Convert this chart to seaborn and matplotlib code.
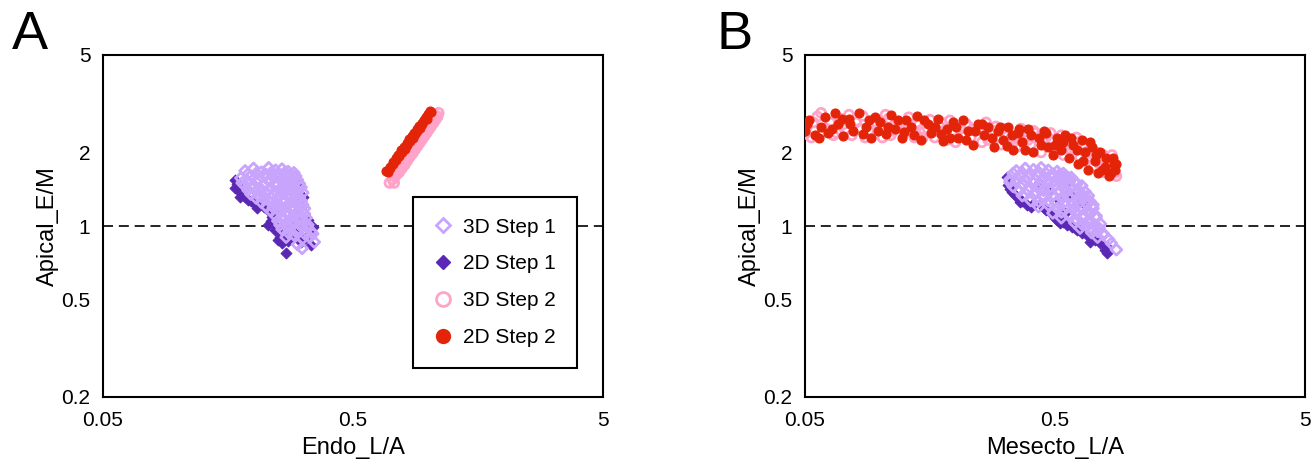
import matplotlib
matplotlib.use("Agg")
import matplotlib.pyplot as plt
import seaborn as sns
from matplotlib.lines import Line2D

# ---- panel A data: (Endo_L/A, Apical_E/M) pairs ----
a_3d_step1 = [
    (0.185, 1.68), (0.20, 1.72), (0.215, 1.66), (0.23, 1.73), (0.245, 1.69),
    (0.26, 1.71), (0.275, 1.67), (0.29, 1.65),
    (0.19, 1.63), (0.205, 1.64), (0.22, 1.62), (0.235, 1.65), (0.25, 1.63),
    (0.265, 1.64), (0.28, 1.62), (0.295, 1.60),
    (0.178, 1.57), (0.195, 1.60), (0.21, 1.55), (0.225, 1.62), (0.24, 1.58),
    (0.255, 1.61), (0.27, 1.56), (0.285, 1.59), (0.30, 1.54),
    (0.18, 1.50), (0.19, 1.52), (0.205, 1.51), (0.23, 1.53), (0.245, 1.50),
    (0.26, 1.52), (0.27, 1.50), (0.29, 1.51), (0.305, 1.49),
    (0.185, 1.46), (0.20, 1.44), (0.22, 1.48), (0.235, 1.43), (0.25, 1.47),
    (0.265, 1.45), (0.28, 1.49), (0.295, 1.42), (0.31, 1.44),
    (0.19, 1.40), (0.205, 1.39), (0.215, 1.41), (0.23, 1.40), (0.245, 1.38),
    (0.255, 1.41), (0.27, 1.39), (0.285, 1.40), (0.30, 1.38), (0.315, 1.37),
    (0.195, 1.35), (0.21, 1.33), (0.225, 1.37), (0.24, 1.34), (0.26, 1.36),
    (0.275, 1.32), (0.29, 1.35), (0.305, 1.31),
    (0.205, 1.30), (0.22, 1.29), (0.235, 1.31), (0.25, 1.30), (0.265, 1.28),
    (0.28, 1.30), (0.295, 1.29), (0.31, 1.27),
    (0.215, 1.25), (0.23, 1.27), (0.25, 1.23), (0.265, 1.26), (0.28, 1.24),
    (0.30, 1.28), (0.315, 1.22),
    (0.225, 1.20), (0.24, 1.19), (0.255, 1.21), (0.27, 1.20), (0.29, 1.19),
    (0.305, 1.20), (0.32, 1.18),
    (0.235, 1.15), (0.25, 1.17), (0.27, 1.13), (0.285, 1.16), (0.30, 1.14),
    (0.32, 1.12),
    (0.245, 1.10), (0.26, 1.09), (0.275, 1.11), (0.29, 1.10), (0.31, 1.09),
    (0.325, 1.08),
    (0.25, 1.05), (0.265, 1.07), (0.285, 1.04), (0.30, 1.06), (0.32, 1.03),
    (0.255, 1.01), (0.27, 1.00), (0.29, 1.02), (0.31, 1.00), (0.33, 1.01),
    (0.26, 0.97), (0.28, 0.99), (0.30, 0.96), (0.33, 0.98),
    (0.275, 0.94), (0.295, 0.95), (0.32, 0.93), (0.34, 0.95),
    (0.27, 0.90), (0.29, 0.92), (0.315, 0.89), (0.345, 0.93),
    (0.30, 0.84), (0.336, 0.90), (0.35, 0.86), (0.313, 0.81),
]

a_2d_step1 = [
    (0.169, 1.54), (0.172, 1.48), (0.169, 1.43), (0.177, 1.38), (0.18, 1.35),
    (0.177, 1.32), (0.185, 1.31), (0.19, 1.28), (0.196, 1.27), (0.203, 1.23),
    (0.207, 1.19), (0.212, 1.25), (0.22, 1.20), (0.24, 1.13),
    (0.293, 1.57), (0.305, 1.50), (0.307, 1.43), (0.30, 1.38), (0.316, 1.32),
    (0.31, 1.27), (0.313, 1.21), (0.298, 1.15), (0.30, 1.08),
    (0.229, 1.16), (0.237, 1.09), (0.235, 1.05), (0.229, 1.01), (0.245, 1.00),
    (0.244, 0.96), (0.26, 0.93), (0.255, 0.90), (0.250, 0.88), (0.275, 0.87),
    (0.26, 0.85), (0.285, 0.99), (0.293, 0.915), (0.32, 0.89), (0.31, 0.86),
    (0.33, 1.06), (0.345, 0.99), (0.335, 0.93), (0.34, 0.84), (0.27, 0.775),
    (0.25, 1.12), (0.28, 1.05), (0.265, 0.95), (0.30, 1.00),
]

a_3d_step2 = [
    (0.70, 1.50), (0.72, 1.55), (0.73, 1.50), (0.735, 1.60), (0.74, 1.61),
    (0.75, 1.63), (0.76, 1.68), (0.765, 1.66), (0.78, 1.75), (0.785, 1.72),
    (0.80, 1.81), (0.805, 1.78), (0.82, 1.88), (0.825, 1.85), (0.84, 1.95),
    (0.845, 1.92), (0.86, 2.02), (0.865, 1.98), (0.88, 2.09), (0.885, 2.05),
    (0.90, 2.16), (0.905, 2.12), (0.92, 2.23), (0.925, 2.19), (0.94, 2.30),
    (0.945, 2.26), (0.96, 2.37), (0.965, 2.33), (0.98, 2.45), (0.985, 2.40),
    (1.00, 2.52), (1.005, 2.48), (1.02, 2.59), (1.025, 2.55), (1.04, 2.67),
    (1.05, 2.64), (1.06, 2.75), (1.07, 2.72), (1.08, 2.82), (1.10, 2.90),
    (1.09, 2.80),
]

a_2d_step2 = [
    (0.68, 1.68), (0.69, 1.66), (0.70, 1.75), (0.705, 1.72), (0.72, 1.82),
    (0.725, 1.79), (0.74, 1.89), (0.745, 1.86), (0.76, 1.96), (0.765, 1.93),
    (0.78, 2.04), (0.785, 2.00), (0.80, 2.11), (0.805, 2.07), (0.82, 2.18),
    (0.825, 2.14), (0.84, 2.26), (0.845, 2.22), (0.86, 2.33), (0.865, 2.29),
    (0.88, 2.41), (0.885, 2.37), (0.90, 2.49), (0.905, 2.45), (0.92, 2.57),
    (0.925, 2.52), (0.94, 2.64), (0.945, 2.60), (0.96, 2.72), (0.98, 2.80),
    (0.985, 2.75), (1.00, 2.88), (1.02, 2.96), (1.03, 2.92),
]

# ---- panel B data: (Mesecto_L/A, Apical_E/M) pairs ----
b_3d_step1 = [
    (0.35, 1.68), (0.38, 1.72), (0.41, 1.70), (0.44, 1.73), (0.47, 1.69),
    (0.51, 1.67), (0.54, 1.64),
    (0.34, 1.64), (0.37, 1.65), (0.40, 1.63), (0.43, 1.66), (0.46, 1.64),
    (0.49, 1.63), (0.52, 1.62), (0.55, 1.60), (0.58, 1.58),
    (0.33, 1.55), (0.36, 1.60), (0.39, 1.58), (0.42, 1.62), (0.45, 1.57),
    (0.48, 1.60), (0.52, 1.56), (0.56, 1.58), (0.60, 1.52),
    (0.33, 1.51), (0.35, 1.52), (0.38, 1.53), (0.41, 1.50), (0.44, 1.52),
    (0.47, 1.51), (0.50, 1.53), (0.53, 1.50), (0.57, 1.51), (0.61, 1.48),
    (0.64, 1.46),
    (0.34, 1.45), (0.37, 1.48), (0.40, 1.43), (0.43, 1.46), (0.47, 1.42),
    (0.50, 1.47), (0.54, 1.43), (0.58, 1.45), (0.62, 1.40), (0.66, 1.38),
    (0.36, 1.39), (0.39, 1.40), (0.42, 1.38), (0.45, 1.40), (0.48, 1.39),
    (0.52, 1.37), (0.56, 1.39), (0.60, 1.36), (0.64, 1.35), (0.68, 1.33),
    (0.37, 1.33), (0.41, 1.35), (0.45, 1.31), (0.49, 1.34), (0.53, 1.30),
    (0.57, 1.32), (0.61, 1.28), (0.65, 1.30), (0.69, 1.26),
    (0.40, 1.27), (0.43, 1.26), (0.47, 1.27), (0.51, 1.25), (0.55, 1.26),
    (0.59, 1.24), (0.63, 1.25), (0.67, 1.23), (0.71, 1.22),
    (0.43, 1.20), (0.47, 1.22), (0.51, 1.18), (0.55, 1.21), (0.59, 1.17),
    (0.63, 1.19), (0.67, 1.15), (0.71, 1.18),
    (0.49, 1.13), (0.53, 1.14), (0.57, 1.12), (0.61, 1.13), (0.65, 1.11),
    (0.69, 1.12), (0.73, 1.10),
    (0.53, 1.08), (0.57, 1.10), (0.61, 1.06), (0.65, 1.08), (0.69, 1.05),
    (0.73, 1.08),
    (0.60, 1.03), (0.64, 1.02), (0.68, 1.03), (0.72, 1.01), (0.76, 1.02),
    (0.63, 0.98), (0.67, 1.00), (0.71, 0.96), (0.75, 0.98),
    (0.70, 0.94), (0.74, 0.95), (0.78, 0.93),
    (0.74, 0.90), (0.78, 0.92), (0.82, 0.88), (0.84, 0.85), (0.88, 0.80),
]

b_2d_step1 = [
    (0.322, 1.59), (0.33, 1.52), (0.325, 1.47), (0.33, 1.42), (0.335, 1.38),
    (0.345, 1.34), (0.355, 1.30), (0.37, 1.27), (0.362, 1.25), (0.387, 1.22),
    (0.40, 1.20), (0.41, 1.23), (0.44, 1.24), (0.45, 1.19), (0.46, 1.16),
    (0.48, 1.14), (0.49, 1.11), (0.50, 1.08), (0.51, 1.06), (0.523, 1.03),
    (0.54, 1.04), (0.56, 1.01), (0.585, 0.99), (0.60, 0.98), (0.615, 0.96),
    (0.64, 0.94), (0.67, 0.915), (0.70, 0.89), (0.72, 0.88), (0.69, 0.86),
    (0.76, 0.85), (0.79, 0.80), (0.81, 0.82), (0.81, 0.775),
    (0.43, 1.50), (0.47, 1.40), (0.52, 1.28), (0.56, 1.50), (0.575, 1.37),
    (0.64, 1.25), (0.55, 1.13),
]

b_3d_step2 = [
    (0.050, 2.38), (0.051, 2.55), (0.053, 2.30), (0.054, 2.65), (0.056, 2.80),
    (0.058, 2.90), (0.059, 2.42), (0.061, 2.50), (0.063, 2.65), (0.065, 2.35),
    (0.067, 2.40), (0.069, 2.75), (0.071, 2.60), (0.073, 2.50), (0.075, 2.85),
    (0.077, 2.35), (0.080, 2.65), (0.083, 2.50), (0.085, 2.82), (0.087, 2.30),
    (0.090, 2.45), (0.093, 2.65), (0.097, 2.60), (0.100, 2.50), (0.102, 2.30),
    (0.105, 2.85), (0.108, 2.75), (0.110, 2.35), (0.113, 2.45), (0.118, 2.62),
    (0.120, 2.50), (0.125, 2.40), (0.128, 2.60), (0.130, 2.78), (0.135, 2.45),
    (0.137, 2.30), (0.140, 2.65), (0.143, 2.60), (0.148, 2.30), (0.150, 2.45),
    (0.155, 2.50), (0.158, 2.72), (0.165, 2.30), (0.168, 2.45), (0.172, 2.55),
    (0.176, 2.65), (0.180, 2.40), (0.185, 2.25), (0.190, 2.70), (0.195, 2.45),
    (0.200, 2.20), (0.210, 2.50), (0.215, 2.35), (0.220, 2.62), (0.225, 2.55),
    (0.230, 2.30), (0.240, 2.45), (0.250, 2.50), (0.255, 2.20), (0.265, 2.65),
    (0.270, 2.25), (0.280, 2.35), (0.285, 2.45), (0.290, 2.55), (0.305, 2.15),
    (0.310, 2.50), (0.320, 2.40), (0.335, 2.30), (0.340, 2.20), (0.350, 2.10),
    (0.360, 2.40), (0.365, 2.50), (0.380, 2.35), (0.390, 2.25), (0.400, 2.15),
    (0.410, 2.45), (0.420, 2.40), (0.440, 2.00), (0.450, 2.20), (0.460, 2.30),
    (0.480, 2.40), (0.490, 2.25), (0.500, 2.10), (0.520, 2.20), (0.530, 2.35),
    (0.540, 1.95), (0.560, 2.25), (0.570, 2.15), (0.580, 2.05), (0.600, 2.05),
    (0.610, 2.30), (0.620, 2.20), (0.630, 1.90), (0.650, 2.15), (0.660, 2.00),
    (0.670, 1.85), (0.690, 2.05), (0.700, 1.90), (0.710, 1.75), (0.730, 2.00),
    (0.740, 1.85), (0.750, 1.80), (0.770, 1.80), (0.780, 1.95), (0.800, 1.65),
    (0.810, 1.75), (0.830, 1.85), (0.845, 1.95), (0.860, 1.75), (0.870, 1.65),
    (0.880, 1.60),
]

b_2d_step2 = [
    (0.050, 2.45), (0.051, 2.60), (0.052, 2.70), (0.055, 2.35), (0.057, 2.30),
    (0.058, 2.55), (0.060, 2.80), (0.062, 2.40), (0.064, 2.50), (0.066, 2.90),
    (0.068, 2.60), (0.070, 2.75), (0.071, 2.33), (0.075, 2.75), (0.076, 2.60),
    (0.078, 2.45), (0.082, 2.90), (0.085, 2.38), (0.088, 2.55), (0.090, 2.70),
    (0.092, 2.30), (0.095, 2.80), (0.098, 2.45), (0.100, 2.65), (0.105, 2.38),
    (0.107, 2.55), (0.110, 2.85), (0.115, 2.50), (0.118, 2.72), (0.122, 2.30),
    (0.125, 2.42), (0.127, 2.70), (0.133, 2.55), (0.137, 2.35), (0.140, 2.82),
    (0.145, 2.25), (0.150, 2.70), (0.155, 2.60), (0.160, 2.40), (0.165, 2.55),
    (0.170, 2.75), (0.175, 2.38), (0.178, 2.22), (0.185, 2.50), (0.190, 2.30),
    (0.195, 2.65), (0.200, 2.55), (0.205, 2.30), (0.215, 2.70), (0.220, 2.25),
    (0.225, 2.45), (0.235, 2.15), (0.240, 2.45), (0.245, 2.60), (0.255, 2.62),
    (0.260, 2.35), (0.270, 2.55), (0.280, 2.30), (0.285, 2.10), (0.295, 2.45),
    (0.300, 2.55), (0.310, 2.25), (0.320, 2.12), (0.325, 2.55), (0.335, 2.35),
    (0.340, 2.05), (0.355, 2.40), (0.360, 2.50), (0.370, 2.20), (0.380, 2.05),
    (0.390, 2.50), (0.400, 2.35), (0.410, 2.00), (0.430, 2.30), (0.440, 2.15),
    (0.450, 2.45), (0.460, 2.40), (0.470, 2.10), (0.490, 1.95), (0.500, 2.15),
    (0.510, 2.30), (0.530, 2.05), (0.540, 2.20), (0.550, 2.35), (0.570, 1.90),
    (0.580, 2.30), (0.590, 2.15), (0.610, 2.05), (0.620, 1.80), (0.640, 2.25),
    (0.650, 1.85), (0.660, 2.00), (0.680, 1.70), (0.690, 2.20), (0.700, 2.10),
    (0.720, 1.85), (0.730, 1.95), (0.740, 1.65), (0.760, 2.00), (0.770, 1.70),
    (0.790, 1.75), (0.800, 1.90), (0.820, 1.60), (0.840, 1.65), (0.850, 1.90),
    (0.860, 1.80), (0.870, 1.70), (0.880, 1.80),
]

y_ticks = [0.2, 0.5, 1, 2, 5]
y_tick_labels = ["0.2", "0.5", "1", "2", "5"]
x_ticks = [0.05, 0.5, 5]
x_tick_labels = ["0.05", "0.5", "5"]

light_purple = "#C8A4FC"
dark_purple = "#5A28B5"
pink = "#FFA3C8"
red = "#E42408"

sns.set_theme(style="white")
plt.rcParams["font.family"] = ["Liberation Sans", "DejaVu Sans"]
plt.rcParams["text.color"] = "black"
plt.rcParams["axes.labelcolor"] = "black"


def draw_open(ax, pts, marker, color, size):
    xs, ys = zip(*pts)
    sns.scatterplot(x=list(xs), y=list(ys), ax=ax, marker=marker, s=size,
                    facecolor="none", edgecolor=color, linewidth=2.0,
                    zorder=3)


def draw_filled(ax, pts, marker, color, size):
    xs, ys = zip(*pts)
    sns.scatterplot(x=list(xs), y=list(ys), ax=ax, marker=marker, s=size,
                    color=color, edgecolor=color, linewidth=0.8, zorder=3)


def style_axes(ax, xlabel):
    ax.set_xscale("log")
    ax.set_yscale("log")
    ax.set_xlim(0.05, 5)
    ax.set_ylim(0.2, 5)
    ax.set_xticks(x_ticks)
    ax.set_xticklabels(x_tick_labels)
    ax.set_yticks(y_ticks)
    ax.set_yticklabels(y_tick_labels)
    ax.minorticks_off()
    ax.tick_params(direction="out", length=4, width=1, color="#888888",
                   labelsize=15, labelcolor="black", pad=5)
    ax.tick_params(axis="x", pad=6)
    for sp in ax.spines.values():
        sp.set_color("black")
        sp.set_linewidth(1.5)
    ax.axhline(1, color="black", lw=1.2, ls=(0, (6, 3.5)), zorder=2)
    ax.set_xlabel(xlabel, fontsize=17, labelpad=5)
    ax.set_ylabel("Apical_E/M", fontsize=17, labelpad=2)


fig = plt.figure(figsize=(13.15, 4.66), dpi=100)
ax_a = fig.add_axes([103 / 1315, 69 / 466, 500 / 1315, 342 / 466])
ax_b = fig.add_axes([805 / 1315, 69 / 466, 500 / 1315, 342 / 466])

for ax, s1_3d, s1_2d, s2_3d, s2_2d in [
        (ax_a, a_3d_step1, a_2d_step1, a_3d_step2, a_2d_step2),
        (ax_b, b_3d_step1, b_2d_step1, b_3d_step2, b_2d_step2)]:
    draw_filled(ax, s1_2d, "D", dark_purple, 30)
    draw_open(ax, s1_3d, "D", light_purple, 30)
    draw_open(ax, s2_3d, "o", pink, 42)
    draw_filled(ax, s2_2d, "o", red, 42)

style_axes(ax_a, "Endo_L/A")
style_axes(ax_b, "Mesecto_L/A")

handles = [
    Line2D([], [], ls="none", marker="D", markersize=7.5, mfc="none",
           mec=light_purple, mew=2),
    Line2D([], [], ls="none", marker="D", markersize=7.5, mfc=dark_purple,
           mec=dark_purple),
    Line2D([], [], ls="none", marker="o", markersize=10, mfc="none",
           mec=pink, mew=2),
    Line2D([], [], ls="none", marker="o", markersize=10, mfc=red, mec=red),
]
labels = ["3D Step 1", "2D Step 1", "3D Step 2", "2D Step 2"]
leg = ax_a.legend(handles, labels, loc="upper left",
                  bbox_to_anchor=(0.62, 0.585), fontsize=15,
                  frameon=True, fancybox=False, edgecolor="black",
                  labelspacing=0.85, handlelength=0.9, handletextpad=0.5,
                  borderpad=1.0, borderaxespad=0)
leg.get_frame().set_linewidth(1.5)
leg.get_frame().set_alpha(1)

fig.text(30 / 1315, 1 - 35 / 466, "A", fontsize=39, ha="center", va="center")
fig.text(735 / 1315, 1 - 35 / 466, "B", fontsize=39, ha="center", va="center")

fig.savefig("out.png", dpi=100)
plt.close()
